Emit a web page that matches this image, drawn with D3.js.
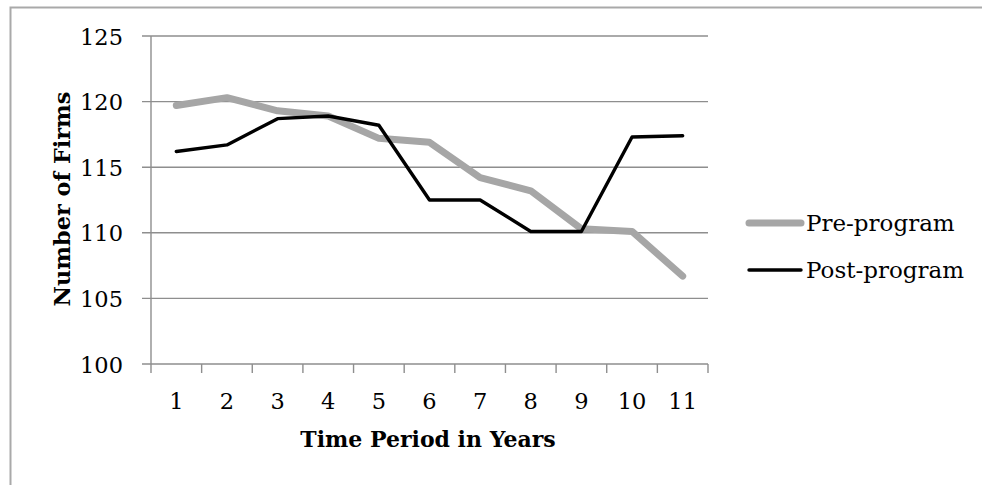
<!DOCTYPE html>
<html>
<head>
<meta charset="utf-8">
<script src="https://cdn.jsdelivr.net/npm/d3@7"></script>
<style>
  html, body { margin: 0; padding: 0; background: #fff; overflow: hidden; }
  svg { display: block; }
  text { font-family: "DejaVu Serif", "Liberation Serif", serif; fill: #000; }
</style>
</head>
<body>
<svg id="chart" width="982" height="485"></svg>
<script>
// Time periods (years) and the number of firms in each series
const years = ["1", "2", "3", "4", "5", "6", "7", "8", "9", "10", "11"];
const preProgram  = [119.7, 120.3, 119.3, 118.9, 117.2, 116.9, 114.2, 113.2, 110.3, 110.1, 106.7];
const postProgram = [116.2, 116.7, 118.7, 118.9, 118.2, 112.5, 112.5, 110.1, 110.1, 117.3, 117.4];
const yTicks = [100, 105, 110, 115, 120, 125];
const seriesNames = ["Pre-program", "Post-program"];

const svg = d3.select("#chart");
const plot = { left: 151, top: 36, right: 708, bottom: 364 };

// outer chart frame: top and left edges only (the rest runs off the page)
svg.append("path")
  .attr("d", "M10.5,485 L10.5,7.5 L982,7.5")
  .attr("fill", "none").attr("stroke", "#a9a9a9").attr("stroke-width", 2);

const x = d3.scaleBand().domain(years).range([plot.left, plot.right]).padding(0);
const y = d3.scaleLinear().domain([100, 125]).range([plot.bottom, plot.top]);

// value axis labels
const yAxis = d3.axisLeft(y).tickValues(yTicks).tickSize(0).tickPadding(20);
const gy = svg.append("g").attr("transform", `translate(${plot.left},0)`).call(yAxis);
gy.select(".domain").remove();
gy.selectAll(".tick line").remove();
gy.selectAll(".tick text")
  .attr("x", -28)
  .attr("fill", "#000")
  .style("font-size", "22.5px")
  .style("font-family", "'DejaVu Serif', serif")
  .attr("dy", "0.36em");

// horizontal gridlines with short ticks to the left of the value axis
svg.append("g").selectAll("line").data(yTicks).join("line")
  .attr("x1", plot.left - 9).attr("x2", plot.right)
  .attr("y1", d => y(d)).attr("y2", d => y(d))
  .attr("stroke", "#8e8e8e").attr("stroke-width", 1.4);

// vertical value axis line
svg.append("line")
  .attr("x1", plot.left).attr("x2", plot.left)
  .attr("y1", plot.top).attr("y2", plot.bottom)
  .attr("stroke", "#8e8e8e").attr("stroke-width", 1.4);

// category axis: ticks on band boundaries, labels centred in bands
const boundaries = years.map(d => x(d)).concat([x(years[years.length - 1]) + x.bandwidth()]);
svg.append("g").selectAll("line").data(boundaries).join("line")
  .attr("x1", d => d).attr("x2", d => d)
  .attr("y1", plot.bottom).attr("y2", plot.bottom + 9)
  .attr("stroke", "#8e8e8e").attr("stroke-width", 1.4);

svg.append("g").selectAll("text").data(years).join("text")
  .attr("x", d => x(d) + x.bandwidth() / 2)
  .attr("y", 409)
  .attr("text-anchor", "middle")
  .style("font-size", "22.5px")
  .text(d => d);

// axis titles
svg.append("text")
  .attr("x", 428).attr("y", 447)
  .attr("text-anchor", "middle")
  .style("font-size", "22px").style("font-weight", "bold")
  .text("Time Period in Years");

svg.append("text")
  .attr("transform", "translate(70,199) rotate(-90)")
  .attr("text-anchor", "middle")
  .style("font-size", "22.4px").style("font-weight", "bold")
  .text("Number of Firms");

// series lines
const line = d3.line()
  .x((d, i) => x(years[i]) + x.bandwidth() / 2)
  .y(d => y(d));

svg.append("path").datum(preProgram)
  .attr("d", line)
  .attr("fill", "none").attr("stroke", "#a6a6a6").attr("stroke-width", 7)
  .attr("stroke-linejoin", "round").attr("stroke-linecap", "round");

svg.append("path").datum(postProgram)
  .attr("d", line)
  .attr("fill", "none").attr("stroke", "#000").attr("stroke-width", 3.4)
  .attr("stroke-linejoin", "round").attr("stroke-linecap", "round");

// legend
const legend = [
  { name: seriesNames[0], color: "#a6a6a6", width: 7, y: 223 },
  { name: seriesNames[1], color: "#000", width: 3.4, y: 270 }
];
const lg = svg.append("g").selectAll("g").data(legend).join("g");
lg.append("line")
  .attr("x1", 749).attr("x2", 801)
  .attr("y1", d => d.y).attr("y2", d => d.y)
  .attr("stroke", d => d.color).attr("stroke-width", d => d.width)
  .attr("stroke-linecap", "round");
lg.append("text")
  .attr("x", 806).attr("y", d => d.y)
  .attr("dy", "0.36em")
  .style("font-size", "23px")
  .text(d => d.name);
</script>
</body>
</html>
